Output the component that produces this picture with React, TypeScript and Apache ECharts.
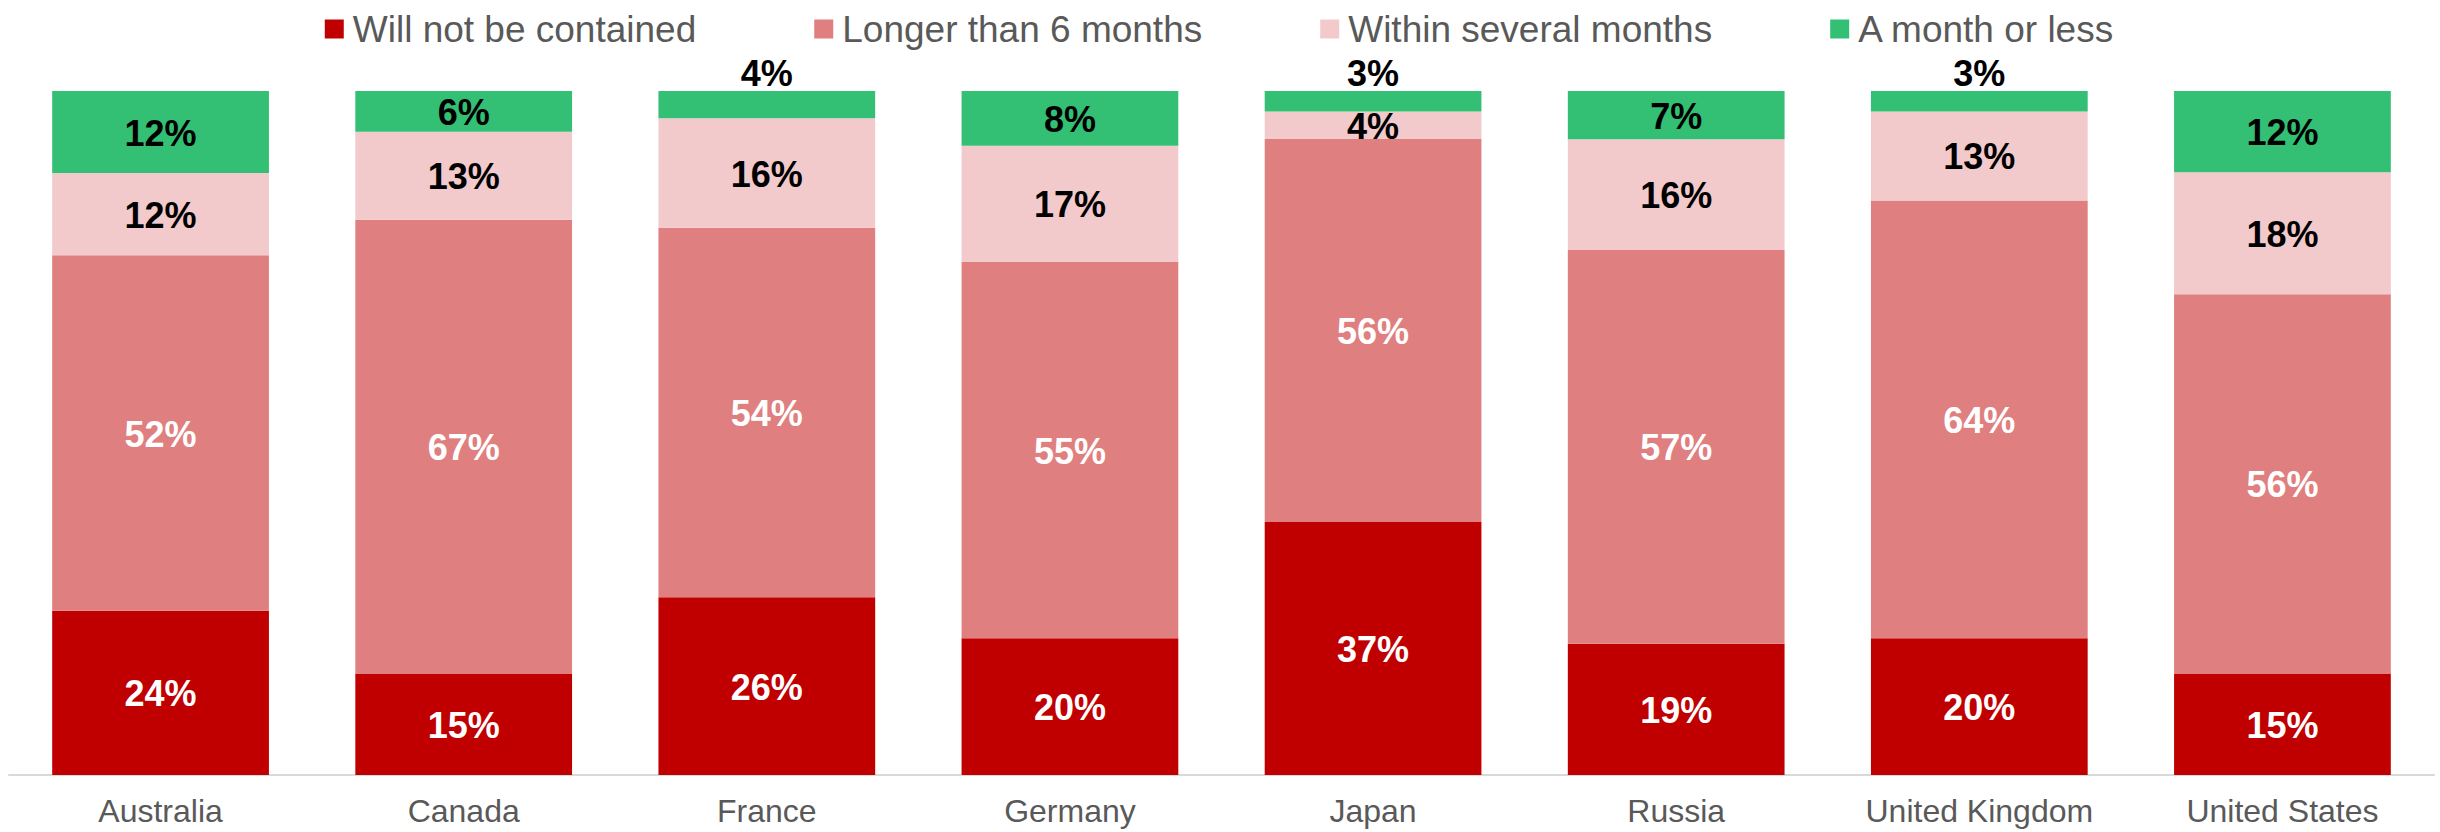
import React, { useEffect, useRef } from "react";
import * as echarts from "echarts";

const categories = ["Australia", "Canada", "France", "Germany", "Japan", "Russia", "United Kingdom", "United States"];
const seriesNames = ["Will not be contained", "Longer than 6 months", "Within several months", "A month or less"];
const willNotBeContained = [24, 15, 26, 20, 37, 19, 20, 15];
const longerThan6Months = [52, 67, 54, 55, 56, 57, 64, 56];
const withinSeveralMonths = [12, 13, 16, 17, 4, 16, 13, 18];
const monthOrLess = [12, 6, 4, 8, 3, 7, 3, 12];

const colors = ["#C00000", "#DF7F7F", "#F2CACB", "#33BF74"];
const labelColors = ["#FFFFFF", "#FFFFFF", "#000000", "#000000"];
const FONT = '"Liberation Sans", Arial, sans-serif';

export default function App() {
  const ref = useRef<HTMLDivElement>(null);
  useEffect(() => {
    if (!ref.current) return;
    const chart = echarts.init(ref.current, null, { renderer: "svg" });
    const all = [willNotBeContained, longerThan6Months, withinSeveralMonths, monthOrLess];
    const totals = categories.map((_, i) => all.reduce((s, arr) => s + arr[i], 0));
    const series = all.map((arr, si) => ({
      name: seriesNames[si],
      type: "bar",
      stack: "total",
      barWidth: "71.5%",
      itemStyle: { color: colors[si] },
      label: {
        show: true,
        position: "inside",
        color: labelColors[si],
        fontFamily: FONT,
        fontSize: 36,
        fontWeight: "bold",
        offset: [0, 1],
        formatter: (p: any) => `${arr[p.dataIndex]}%`,
      },
      data: arr.map((v, i) => {
        const item: any = { value: (v / totals[i]) * 100 };
        if (si === 3 && v <= 4) {
          item.label = { position: "top", distance: 1 };
        }
        return item;
      }),
    }));
    chart.setOption({
      animation: false,
      backgroundColor: "#FFFFFF",
      legend: {
        data: seriesNames,
        top: 4,
        left: "center",
        itemWidth: 19,
        itemHeight: 19,
        itemGap: 118,
        icon: "rect",
        textStyle: { color: "#595959", fontSize: 37, fontFamily: FONT, lineHeight: 40, padding: [0, 0, 0, 4] },
      },
      grid: { left: 9, right: 6, top: 91, bottom: 57 },
      xAxis: {
        type: "category",
        data: categories,
        axisTick: { show: false },
        axisLine: { lineStyle: { color: "#D9D9D9", width: 2 } },
        axisLabel: { color: "#595959", fontSize: 32, fontFamily: FONT, margin: 20 },
      },
      yAxis: { type: "value", min: 0, max: 100, show: false, splitLine: { show: false } },
      series,
    });
    return () => chart.dispose();
  }, []);
  return <div ref={ref} style={{ position: "fixed", left: 0, top: 0, width: 2440, height: 832 }} />;
}
